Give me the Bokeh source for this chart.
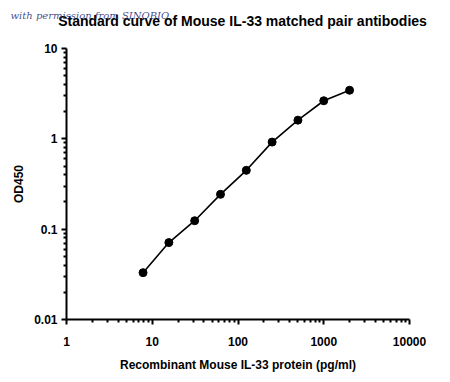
from bokeh.plotting import figure
from bokeh.models import Range1d, FixedTicker
from bokeh.layouts import column
from bokeh.core.properties import value
from bokeh.embed import file_html
from bokeh.resources import INLINE

# Data
conc = [7.8125, 15.625, 31.25, 62.5, 125, 250, 500, 1000, 2000]
od450 = [0.033, 0.071, 0.124, 0.243, 0.448, 0.92, 1.61, 2.64, 3.45]

x_major = [1, 10, 100, 1000, 10000]
x_labels = ["1", "10", "100", "1000", "10000"]
y_major = [0.01, 0.1, 1, 10]
y_labels = ["0.01", "0.1", "1", "10"]

title_text = "Standard curve of Mouse IL-33 matched pair antibodies"
watermark_text = "with permission from SINOBIO"
x_title = "Recombinant Mouse IL-33 protein (pg/ml)"
y_title = "OD450"

FONT = "Liberation Sans"
W = 434
HEAD_H = 38

# Header strip holding the title and the watermark (its own frame spans the strip)
head = figure(width=W, height=HEAD_H, x_range=Range1d(0, W), y_range=Range1d(0, HEAD_H),
              output_backend="svg", toolbar_location=None,
              x_axis_location=None, y_axis_location=None,
              min_border_left=0, min_border_right=0, min_border_top=0, min_border_bottom=0)
head.frame_align = False
head.outline_line_color = None
head.xgrid.visible = False
head.ygrid.visible = False
head.text(x=[242], y=[HEAD_H - 20], text=[title_text], text_align="center",
          text_baseline="middle", text_font=value(FONT), text_font_style="bold",
          text_font_size="14px", text_color="black")
head.text(x=[10], y=[HEAD_H - 14.5], text=[watermark_text], text_align="left",
          text_baseline="middle", text_font=value("DejaVu Serif"), text_font_style="italic",
          text_font_size="10px", text_color="#1c2a78", text_alpha=0.85)

p = figure(width=W, height=336, x_axis_type="log", y_axis_type="log",
           x_range=Range1d(1, 10000), y_range=Range1d(0.01, 10),
           output_backend="svg", toolbar_location=None,
           min_border_left=66, min_border_right=25, min_border_top=10, min_border_bottom=51)
p.frame_align = False
p.outline_line_color = None
p.xgrid.visible = False
p.ygrid.visible = False

def minors(majors):
    out = []
    for m in majors[:-1]:
        for k in range(2, 10):
            out.append(m * k)
    return out

p.xaxis.ticker = FixedTicker(ticks=x_major, minor_ticks=minors(x_major))
p.yaxis.ticker = FixedTicker(ticks=y_major, minor_ticks=minors(y_major))
p.xaxis.major_label_overrides = {v: s for v, s in zip(x_major, x_labels)}
p.yaxis.major_label_overrides = {v: s for v, s in zip(y_major, y_labels)}

for ax in (p.xaxis[0], p.yaxis[0]):
    ax.axis_line_width = 2
    ax.axis_line_color = "black"
    ax.major_tick_line_width = 2
    ax.minor_tick_line_width = 2
    ax.major_tick_line_color = "black"
    ax.minor_tick_line_color = "black"
    ax.major_tick_out = 5
    ax.major_tick_in = 0
    ax.minor_tick_out = 3
    ax.minor_tick_in = 0
    ax.major_label_text_font = FONT
    ax.major_label_text_font_style = "bold"
    ax.major_label_text_font_size = "12px"
    ax.major_label_text_color = "black"
    ax.axis_label_text_font = FONT
    ax.axis_label_text_font_style = "bold"
    ax.axis_label_text_font_size = "12px"
    ax.axis_label_text_color = "black"

p.xaxis.axis_label = x_title
p.yaxis.axis_label = y_title
p.xaxis.major_label_standoff = 12
p.yaxis.major_label_standoff = 4
p.xaxis.axis_label_standoff = 9
p.yaxis.axis_label_standoff = 5

p.line(conc, od450, line_color="black", line_width=1.6)
p.scatter(conc, od450, size=8, fill_color="black", line_color="black")

layout = column(head, p, spacing=0)
open("out.html", "w").write(file_html(layout, INLINE))
